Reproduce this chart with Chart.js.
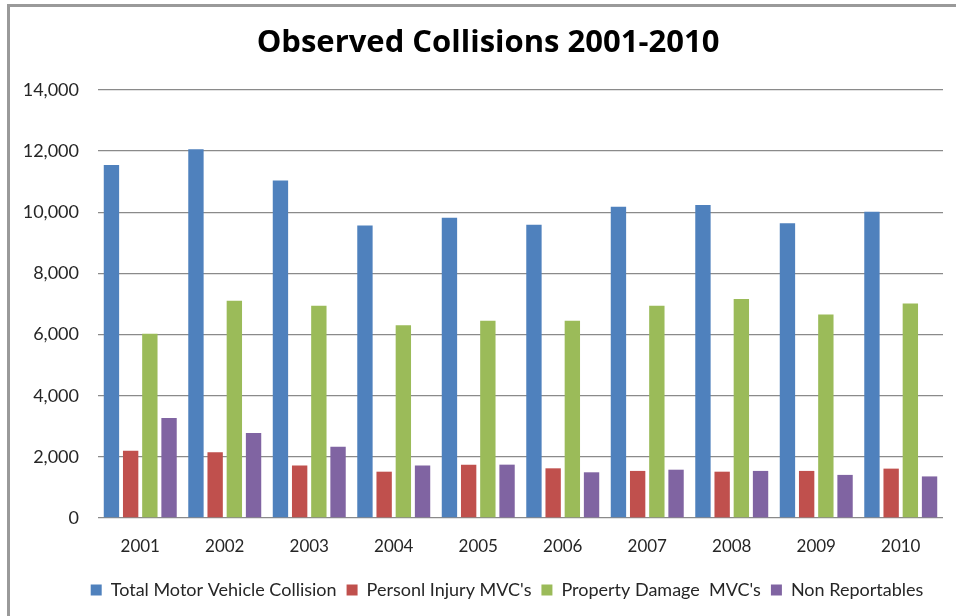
<!DOCTYPE html>
<html>
<head>
<meta charset="utf-8">
<title>Observed Collisions 2001-2010</title>
<script src="https://cdn.jsdelivr.net/npm/chart.js@4"></script>
<style>
  html, body { margin: 0; padding: 0; background: #fff; overflow: hidden; }
  #wrap { position: relative; width: 956px; height: 616px; }
  #frame {
    position: absolute; left: 7px; top: 4px; width: 990px; height: 680px;
    border: 3px solid #9a9a9a; box-sizing: border-box; pointer-events: none;
  }
</style>
</head>
<body>
<div id="wrap">
  <canvas id="chart"></canvas>
  <div id="frame"></div>
</div>
<script>
// Yearly collision counts
const years = ['2001', '2002', '2003', '2004', '2005', '2006', '2007', '2008', '2009', '2010'];
const totalCollisions = [11550, 12060, 11040, 9570, 9820, 9595, 10185, 10235, 9645, 10020];
const personalInjury  = [2200, 2150, 1720, 1515, 1745, 1625, 1540, 1515, 1540, 1615];
const propertyDamage  = [6030, 7110, 6940, 6305, 6450, 6450, 6940, 7160, 6655, 7015];
const nonReportables  = [3275, 2780, 2330, 1720, 1745, 1495, 1580, 1540, 1410, 1360];
const seriesNames = ['Total Motor Vehicle Collision', "Personl Injury MVC's", "Property Damage  MVC's", 'Non Reportables'];
const seriesColors = ['#4F81BD', '#C0504D', '#9BBB59', '#8064A2'];
const yTicks = { min: 0, max: 14000, step: 2000 };

// Title is centred over the frame, the legend row a little to the right of it
const blockShift = {
  id: 'blockShift',
  afterLayout(chart) {
    if (chart.titleBlock) chart.titleBlock.left = 33;
    if (chart.legend) chart.legend.left = 71;
  }
};

function draw() {
  const seriesData = [totalCollisions, personalInjury, propertyDamage, nonReportables];
  new Chart(document.getElementById('chart'), {
    type: 'bar',
    data: {
      labels: years,
      datasets: seriesData.map((values, i) => ({
        label: seriesNames[i],
        data: values,
        backgroundColor: seriesColors[i],
        borderWidth: 0,
        categoryPercentage: 0.909,
        barPercentage: 0.8
      }))
    },
    options: {
      responsive: true,
      maintainAspectRatio: false,
      animation: false,
      layout: { padding: { left: 15, right: 13, top: 20, bottom: 7 } },
      plugins: {
        title: {
          display: true,
          text: 'Observed Collisions 2001-2010',
          color: '#000',
          font: { family: 'Open Sans', size: 31, weight: 'bold' },
          padding: { top: 4.2, bottom: 28.6 }
        },
        legend: {
          position: 'bottom',
          labels: {
            boxWidth: 11,
            boxHeight: 11,
            padding: 10,
            color: '#262626',
            font: { family: 'Lato', size: 18 }
          }
        },
        tooltip: { enabled: false }
      },
      scales: {
        x: {
          grid: { display: false, drawTicks: false },
          border: { display: false },
          ticks: { color: '#262626', padding: 18, font: { family: 'Lato', size: 17 } },
          afterFit(scale) { scale.height = 53; }
        },
        y: {
          min: yTicks.min,
          max: yTicks.max,
          grid: { color: '#8a8a8a', lineWidth: 1.3, drawTicks: false },
          border: { display: false },
          ticks: { stepSize: yTicks.step, color: '#262626', padding: 19, font: { family: 'Lato', size: 18 } },
          afterFit(scale) { scale.width = 83; }
        }
      }
    },
    plugins: [blockShift]
  });
}

const fontsReady = document.fonts
  ? Promise.all([
      document.fonts.load('18px Lato'),
      document.fonts.load('bold 31px "Open Sans"')
    ]).catch(() => {})
  : Promise.resolve();
fontsReady.then(draw);
</script>
</body>
</html>
